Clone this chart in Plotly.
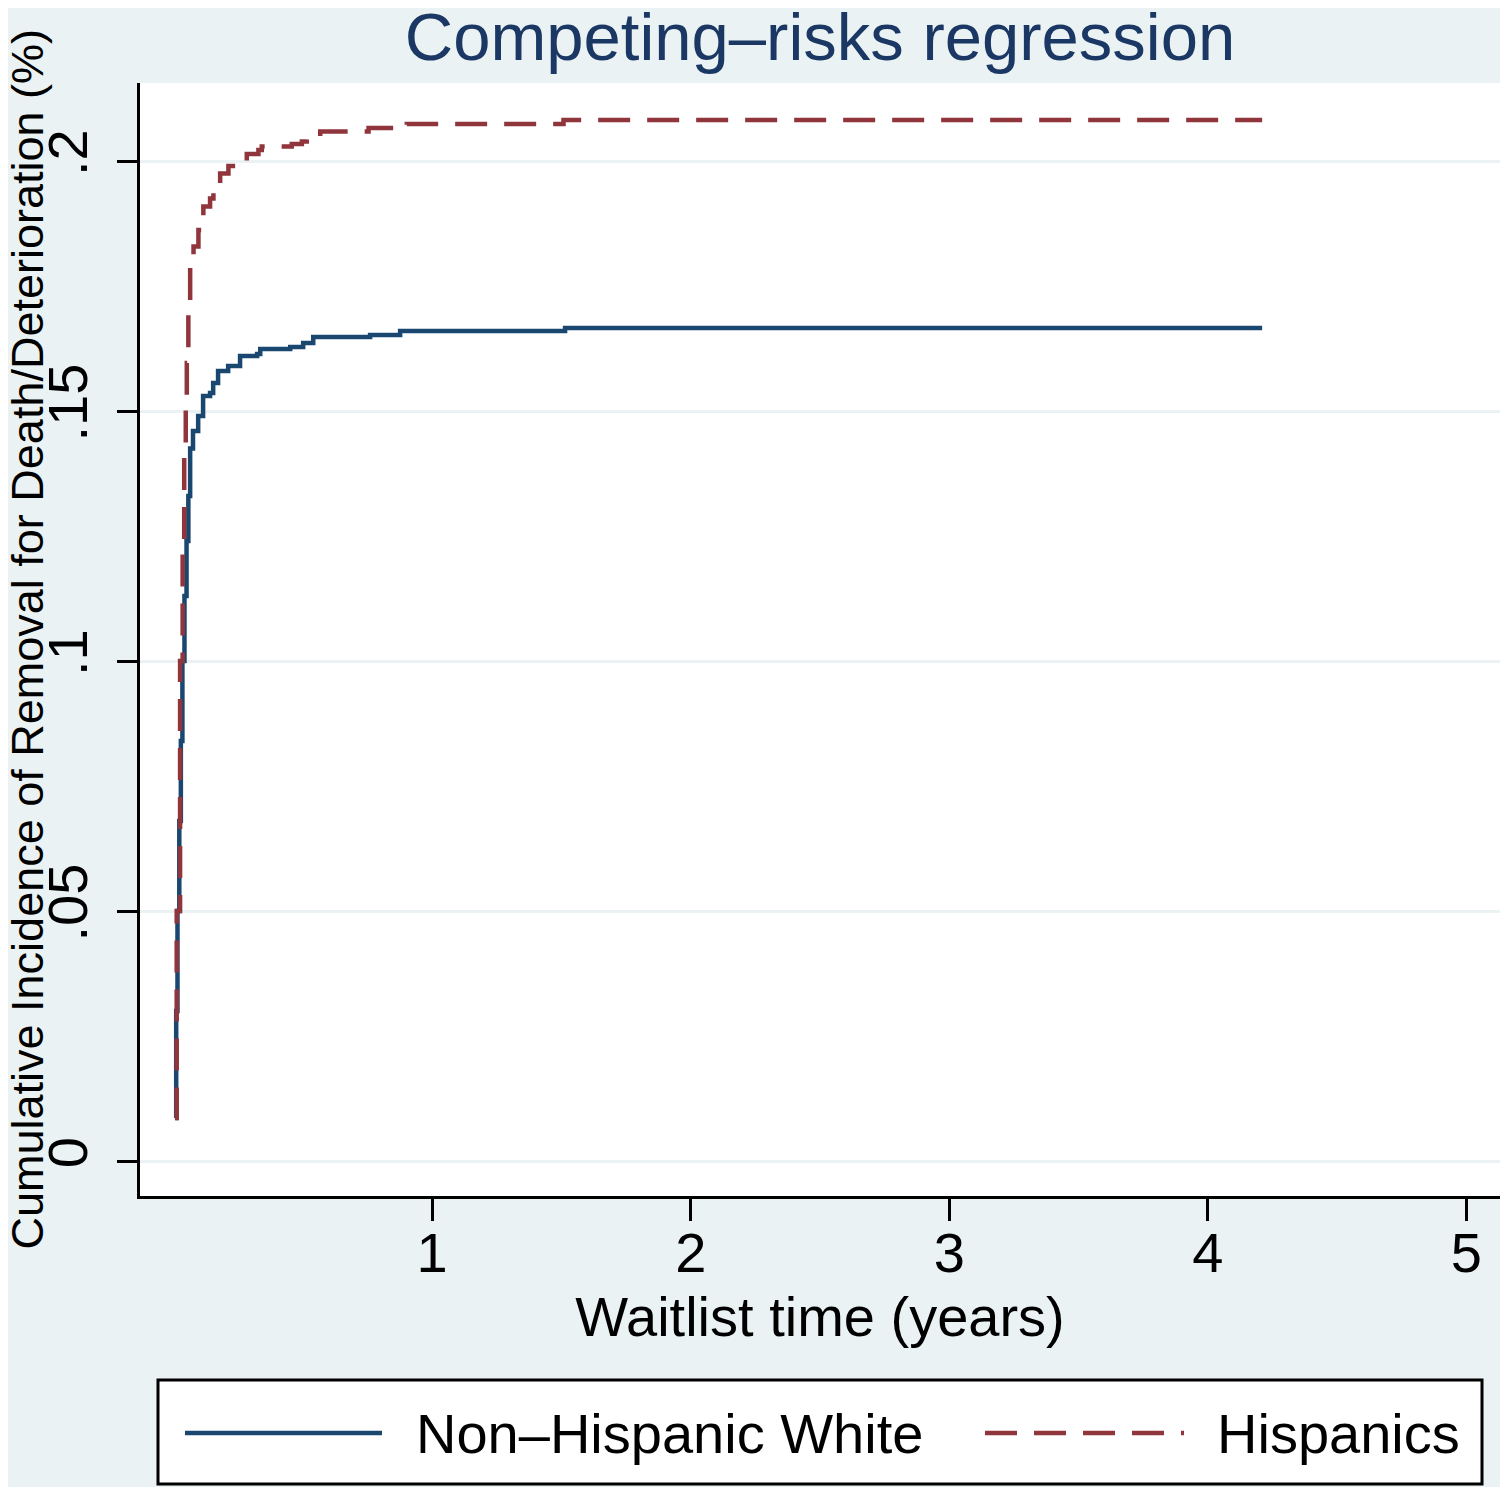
import plotly.graph_objects as go

# ---- data ----
nhw_time = [0.006, 0.010, 0.015, 0.022, 0.028, 0.034, 0.042, 0.050, 0.057, 0.064,
            0.075, 0.095, 0.114, 0.141, 0.153, 0.172, 0.211, 0.257, 0.323, 0.335,
            0.451, 0.501, 0.540, 0.760, 0.876, 1.514, 4.210]
nhw_cif = [0.0086, 0.030, 0.050, 0.068, 0.084, 0.100, 0.113, 0.124, 0.133, 0.1425,
           0.146, 0.149, 0.153, 0.1536, 0.1556, 0.158, 0.159, 0.161, 0.1614, 0.1624,
           0.1628, 0.1636, 0.1648, 0.1652, 0.166, 0.1666, 0.1666]

hisp_time = [0.006, 0.012, 0.025, 0.035, 0.041, 0.047, 0.051, 0.057, 0.064, 0.077,
             0.096, 0.115, 0.141, 0.154, 0.180, 0.212, 0.244, 0.283, 0.328, 0.341,
             0.457, 0.496, 0.515, 0.567, 0.754, 0.902, 1.508, 4.210]
hisp_cif = [0.0086, 0.050, 0.100, 0.123, 0.1425, 0.151, 0.1596, 0.1696, 0.1789, 0.1829,
            0.1862, 0.1909, 0.1925, 0.1942, 0.1975, 0.199, 0.1995, 0.2014, 0.2022, 0.2029,
            0.2034, 0.2039, 0.2049, 0.2059, 0.2066, 0.2074, 0.2082, 0.2082]

series_names = ["Non\u2013Hispanic White", "Hispanics"]
x_ticks = [1, 2, 3, 4, 5]
y_ticks = [0, 0.05, 0.1, 0.15, 0.2]
y_ticktext = ["0", ".05", ".1", ".15", ".2"]

title_text = "Competing\u2013risks regression"
x_title = "Waitlist time (years)"
y_title = "Cumulative Incidence of Removal for Death/Deterioration (%)"

# ---- styles ----
BLUE = "#1a476f"
RED = "#90353b"
BG = "#eaf2f3"
FONT = "Liberation Sans, Arial, Helvetica, sans-serif"
DASH = "32px,17px"
LW = 4.5

W, H = 1495, 1479
L, R, T, B = 132, 3, 75, 291

fig = go.Figure()
fig.add_trace(go.Scatter(x=nhw_time, y=nhw_cif, mode="lines", name=series_names[0],
                         line=dict(color=BLUE, width=LW, shape="hv"), showlegend=False))
fig.add_trace(go.Scatter(x=hisp_time, y=hisp_cif, mode="lines", name=series_names[1],
                         line=dict(color=RED, width=LW, shape="hv", dash=DASH), showlegend=False))

fig.update_layout(
    width=W, height=H,
    margin=dict(l=L, r=R, t=T, b=B, autoexpand=False),
    paper_bgcolor=BG, plot_bgcolor="white",
    font=dict(family=FONT, color="black", size=56),
    title=dict(text=title_text, x=0.5, xref="paper", xanchor="center",
               y=1 - 29 / H, yanchor="middle", yref="container", automargin=False,
               font=dict(size=67, color="#1b3764", family=FONT)),
    xaxis=dict(range=[-0.13, 5.13], tickvals=x_ticks, showgrid=False, zeroline=False,
               showline=True, linecolor="black", linewidth=3, automargin=False,
               ticks="outside", ticklen=22, tickwidth=3, tickcolor="black",
               ticklabelstandoff=-16,
               tickfont=dict(size=56),
               title=dict(text=x_title, font=dict(size=56), standoff=14)),
    yaxis=dict(range=[-0.007, 0.2156], tickvals=y_ticks, ticktext=y_ticktext,
               showgrid=True, gridcolor=BG, gridwidth=3, zeroline=False,
               showline=True, linecolor="black", linewidth=3, automargin=False,
               ticks="outside", ticklen=20, tickwidth=3, tickcolor="black",
               tickangle=-90, ticklabelstandoff=8,
               tickfont=dict(size=56)),
)

# ---- positions given in reference pixels, converted to paper coordinates ----
def px_x(px):
    return (px - 140) / 1360.0

def px_y(py):
    return (1196 - py) / 1113.0

# y-axis title
fig.add_annotation(xref="paper", yref="paper", x=px_x(27), y=0.5, textangle=-90,
                   text=y_title, showarrow=False, xanchor="center", yanchor="middle",
                   font=dict(size=45, color="black"))

# legend box
fig.add_shape(type="rect", xref="paper", yref="paper",
              x0=px_x(158), x1=px_x(1482), y0=px_y(1484), y1=px_y(1380),
              fillcolor="white", line=dict(color="black", width=3))
fig.add_shape(type="line", xref="paper", yref="paper",
              x0=px_x(185), x1=px_x(382), y0=px_y(1433), y1=px_y(1433),
              line=dict(color=BLUE, width=LW))
fig.add_shape(type="line", xref="paper", yref="paper",
              x0=px_x(985), x1=px_x(1184), y0=px_y(1433), y1=px_y(1433),
              line=dict(color=RED, width=LW, dash=DASH))
fig.add_annotation(xref="paper", yref="paper", x=px_x(414), y=px_y(1433),
                   text=series_names[0], showarrow=False, xanchor="left", yanchor="middle",
                   font=dict(size=56, color="black"))
fig.add_annotation(xref="paper", yref="paper", x=px_x(1215), y=px_y(1433),
                   text=series_names[1], showarrow=False, xanchor="left", yanchor="middle",
                   font=dict(size=56, color="black"))

fig.write_html("out.html")
